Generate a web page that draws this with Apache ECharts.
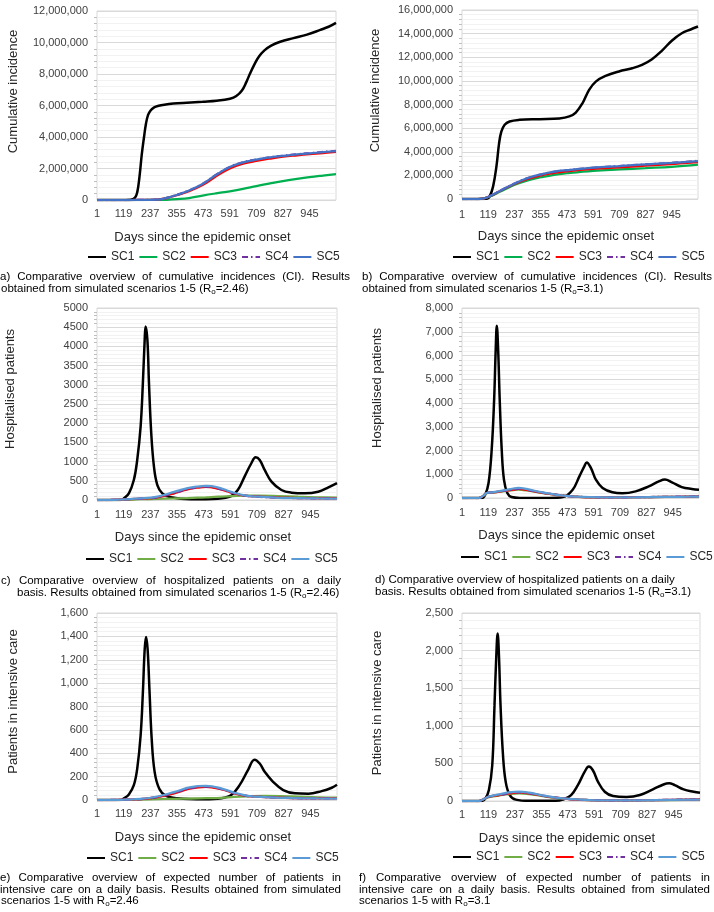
<!DOCTYPE html>
<html><head><meta charset="utf-8">
<script src="https://cdn.jsdelivr.net/npm/echarts@6/dist/echarts.min.js"></script>
<style>html,body{margin:0;padding:0;background:#fff}#c{width:714px;height:912px}</style>
</head><body><div id="c"></div><script>
// ---------------- DATA ----------------
const seriesNames = ['SC1','SC2','SC3','SC4','SC5'];
const xTickLabels = [1,119,237,355,473,591,709,827,945];
const xLast = 1063;

// a) Cumulative incidence, R0=2.46
const a_days1 = [1,100,150,170,180,190,200,210,218,228,240,255,275,300,340,400,470,533,592,620,645,665,680,700,720,745,775,815,874,934,993,1030,1063];
const a_SC1 = [0,0,20000,150000,500000,1500000,2900000,4000000,4800000,5400000,5700000,5880000,5980000,6050000,6120000,6180000,6240000,6300000,6430000,6600000,6950000,7500000,8000000,8600000,9100000,9500000,9800000,10050000,10280000,10500000,10800000,11000000,11250000];
const a_days = [1,150,200,267,310,355,410,470,530,591,650,709,770,827,890,945,1005,1063];
const a_SC2 = [0,0,0,5000,15000,50000,120000,280000,420000,550000,700000,880000,1050000,1200000,1340000,1450000,1550000,1640000];
const a_SC3 = [0,0,5000,20000,120000,300000,560000,950000,1500000,2000000,2300000,2480000,2630000,2750000,2840000,2910000,2980000,3050000];
const a_SC4 = [0,0,5000,22000,130000,320000,600000,1020000,1600000,2100000,2400000,2570000,2710000,2810000,2900000,2970000,3050000,3120000];
const a_SC5 = [0,0,5000,22000,130000,320000,600000,1010000,1590000,2090000,2390000,2560000,2700000,2800000,2890000,2960000,3040000,3110000];

// b) Cumulative incidence, R0=3.1
const b_days1 = [1,100,115,126,141,156,168,178,193,215,260,350,439,484,513,543,573,603,647,707,767,811,856,901,945,990,1030,1063];
const b_SC1 = [0,0,30000,230000,1070000,2760000,4730000,5700000,6280000,6560000,6700000,6760000,6820000,6990000,7320000,8100000,9240000,9940000,10420000,10800000,11070000,11350000,11830000,12560000,13400000,14030000,14350000,14600000];
const b_days = [1,70,100,126,171,238,297,357,415,473,591,709,827,945,1063];
const b_SC2 = [0,0,55000,210000,610000,1200000,1580000,1840000,2050000,2180000,2380000,2500000,2610000,2720000,2900000];
const b_SC3 = [0,0,60000,230000,650000,1270000,1690000,2000000,2200000,2340000,2540000,2680000,2820000,2960000,3130000];
const b_SC4 = [0,0,60000,240000,680000,1320000,1770000,2080000,2300000,2430000,2640000,2790000,2930000,3060000,3230000];
const b_SC5 = [0,0,60000,240000,680000,1320000,1780000,2090000,2310000,2440000,2650000,2790000,2930000,3050000,3200000];

// c) Hospitalised patients, R0=2.46
const c_days1 = [1,105,120,142,164,179,194,204,212,216,224,231,241,253,268,290,327,416,535,595,624,654,684,703,721,743,773,817,862,921,980,1025,1063];
const c_SC1 = [0,0,43,174,520,1043,1913,3043,4170,4520,4170,3043,1740,870,390,174,70,17,35,104,260,610,957,1113,1043,783,478,261,191,174,217,330,440];
const c_days = [1,60,120,194,268,342,402,446,483,535,595,654,713,802,891,980,1063];
const c_SC2 = [0,0,5,20,30,40,50,60,70,87,100,113,115,104,85,70,61];
const c_SC3 = [0,0,17,35,70,174,278,322,340,296,191,113,87,61,52,43,40];
const c_SC4 = [0,0,17,36,72,180,285,330,348,305,195,113,85,60,50,42,38];
const c_SC5 = [0,0,17,40,90,210,310,350,365,330,210,120,85,58,48,40,36];

// d) Hospitalised patients, R0=3.1
const d_days1 = [1,90,105,120,134,145,152,157,163,170,179,189,204,223,260,394,453,497,527,549,560,579,601,631,675,720,779,838,883,910,942,986,1031,1063];
const d_SC1 = [0,0,140,630,2030,4140,6240,7250,6240,4140,2030,770,210,42,5,5,42,350,910,1330,1500,1260,770,420,240,200,280,490,700,780,660,460,380,350];
const d_days = [1,75,97,112,142,186,231,253,290,349,409,468,542,690,838,986,1063];
const d_SC2 = [0,0,95,200,230,280,330,350,320,230,150,85,42,28,40,52,62];
const d_SC3 = [0,0,100,210,240,295,350,380,340,240,155,85,42,28,42,56,70];
const d_SC4 = [0,0,100,212,245,300,360,385,345,245,157,86,43,28,42,56,70];
const d_SC5 = [0,0,100,210,250,320,400,425,380,260,160,88,45,28,38,52,62];

// e) Patients in intensive care, R0=2.46
const e_days1 = [1,105,120,142,164,179,194,204,212,218,225,233,243,256,276,305,357,476,550,595,632,669,698,721,743,780,825,877,936,995,1040,1063];
const e_SC1 = [0,0,14,48,127,269,552,920,1289,1394,1289,949,524,241,99,37,14,6,14,42,127,255,345,312,241,156,85,57,54,76,105,130];
const e_days = [1,60,120,194,268,342,416,483,550,609,669,743,862,980,1063];
const e_SC2 = [0,0,1,4,8,10,12,15,19,27,32,35,31,23,20];
const e_SC3 = [0,0,3,8,25,57,99,113,93,57,34,25,17,14,14];
const e_SC4 = [0,0,3,8,26,60,102,115,95,58,34,25,17,14,14];
const e_SC5 = [0,0,3,9,30,68,110,120,100,62,36,25,17,13,12];

// f) Patients in intensive care, R0=3.1
const f_days1 = [1,91,106,121,136,146,154,160,166,173,184,196,214,241,301,420,450,488,518,548,567,585,608,638,675,735,795,855,900,925,950,990,1035,1063];
const f_SC1 = [0,0,35,145,475,1268,1928,2227,1928,1268,607,255,79,18,2,2,18,79,211,387,458,409,255,123,66,53,79,158,220,235,211,154,123,110];
const f_days = [1,76,98,121,166,211,256,301,360,420,480,570,720,870,1063];
const f_SC2 = [0,0,24,52,72,92,102,92,64,40,24,12,8,11,18];
const f_SC3 = [0,0,26,57,79,101,114,101,70,44,26,13,9,13,22];
const f_SC4 = [0,0,26,58,80,103,116,103,71,45,26,13,9,13,22];
const f_SC5 = [0,0,26,60,88,115,125,110,75,46,27,13,9,12,18];

// ---------------- LAYOUT / STYLE ----------------
const FONT = '"Liberation Sans", Arial, sans-serif';
const colorsAB = ['#000000','#00b050','#ff0000','#7030a0','#4472c4'];
const colorsCF = ['#000000','#70ad47','#ff0000','#7030a0','#5b9bd5'];

const panels = [
  {k:'a', g:{left:97,top:11,width:239,height:189}, ymax:12000000, yint:2000000, comma:true, yname:'Cumulative incidence', yGap:77, yShift:28, xm:8, lg:{left:87,top:251}, colors:colorsAB,
   d1:a_days1, s1:a_SC1, d:a_days, s:[a_SC2,a_SC3,a_SC4,a_SC5]},
  {k:'b', g:{left:462,top:10,width:236,height:189}, ymax:16000000, yint:2000000, comma:true, yname:'Cumulative incidence', yGap:80, yShift:28, xm:10, lg:{left:452,top:251}, colors:colorsAB,
   d1:b_days1, s1:b_SC1, d:b_days, s:[b_SC2,b_SC3,b_SC4,b_SC5]},
  {k:'c', g:{left:97,top:308,width:240,height:192}, ymax:5000, yint:500, comma:false, yname:'Hospitalised patients', yGap:80, yShift:30, xm:9, lg:{left:85,top:553}, colors:colorsCF,
   d1:c_days1, s1:c_SC1, d:c_days, s:[c_SC2,c_SC3,c_SC4,c_SC5]},
  {k:'d', g:{left:462,top:308,width:237,height:190}, ymax:8000, yint:1000, comma:true, yname:'Hospitalised patients', yGap:78, yShift:30, xm:9, lg:{left:460,top:551}, colors:colorsCF,
   d1:d_days1, s1:d_SC1, d:d_days, s:[d_SC2,d_SC3,d_SC4,d_SC5]},
  {k:'e', g:{left:97,top:613,width:240,height:187}, ymax:1600, yint:200, comma:true, yname:'Patients in intensive care', yGap:77, yShift:10, xm:8, lg:{left:86,top:852}, colors:colorsCF,
   d1:e_days1, s1:e_SC1, d:e_days, s:[e_SC2,e_SC3,e_SC4,e_SC5]},
  {k:'f', g:{left:462,top:613,width:238,height:188}, ymax:2500, yint:500, comma:true, yname:'Patients in intensive care', yGap:78, yShift:8, xm:8, lg:{left:452,top:851}, colors:colorsCF,
   d1:f_days1, s1:f_SC1, d:f_days, s:[f_SC2,f_SC3,f_SC4,f_SC5]}
];

const captions = [
  {x:0, x1:350, y:277, t:'a) Comparative overview of cumulative incidences (CI). Results'},
  {x:1, y:288.5, t:'obtained from simulated scenarios 1-5 (R{s|o}=2.46)'},
  {x:362, x1:712, y:277, t:'b) Comparative overview of cumulative incidences (CI). Results'},
  {x:362, y:288.5, t:'obtained from simulated scenarios 1-5 (R{s|o}=3.1)'},
  {x:1, x1:341, y:581, t:'c) Comparative overview of hospitalized patients on a daily'},
  {x:17, y:592.5, t:'basis. Results obtained from simulated scenarios 1-5 (R{s|o}=2.46)'},
  {x:375, y:580, t:'d) Comparative overview of hospitalized patients on a daily'},
  {x:375, y:591.5, t:'basis. Results obtained from simulated scenarios 1-5 (R{s|o}=3.1)'},
  {x:0, x1:341, y:878, t:'e) Comparative overview of expected number of patients in'},
  {x:0, x1:341, y:889.5, t:'intensive care on a daily basis. Results obtained from simulated'},
  {x:1, y:901, t:'scenarios 1-5 with R{s|o}=2.46'},
  {x:359, x1:710, y:878, t:'f) Comparative overview of expected number of patients in'},
  {x:359, x1:710, y:889.5, t:'intensive care on a daily basis. Results obtained from simulated'},
  {x:359, y:901, t:'scenarios 1-5 with R{s|o}=3.1'}
];
const CAP_FS = 11.5;

// ---------------- BUILD ----------------
const pairs = (xs, ys) => xs.map((x, i) => [x, ys[i]]);
const fmtComma = v => String(v).replace(/\B(?=(\d{3})+(?!\d))/g, ',');

const grids = [], xAxes = [], yAxes = [], series = [], legends = [];
panels.forEach((p, i) => {
  grids.push(Object.assign({show:true, borderColor:'#d9d9d9', borderWidth:1, backgroundColor:'transparent'}, p.g));
  xAxes.push({
    type:'value', gridIndex:i, min:xTickLabels[0], max:xLast, interval:xTickLabels[1]-xTickLabels[0],
    axisLine:{show:false}, axisTick:{show:false}, splitLine:{show:false},
    axisLabel:{margin:p.xm, fontSize:11, fontFamily:FONT, color:'#404040', showMaxLabel:false,
      formatter: v => xTickLabels.indexOf(v) >= 0 ? String(v) : ''},
    name:'Days since the epidemic onset', nameLocation:'middle', nameGap:31,
    nameTextStyle:{fontSize:13, fontFamily:FONT, color:'#262626', padding:[0,28,0,0]}
  });
  yAxes.push({
    type:'value', gridIndex:i, min:0, max:p.ymax, interval:p.yint,
    axisLine:{show:false}, axisTick:{show:false},
    splitLine:{show:true, lineStyle:{color:'#d9d9d9', width:1}},
    minorTick:{show:true, splitNumber:5, length:3, lineStyle:{color:'#bfbfbf'}},
    minorSplitLine:{show:true, lineStyle:{color:'#f2f2f2', width:1}},
    axisLabel:{margin:9, fontSize:11, fontFamily:FONT, color:'#404040',
      formatter: v => p.comma ? fmtComma(v) : String(v)},
    name:p.yname, nameLocation:'middle', nameGap:p.yGap,
    nameTextStyle:{fontSize:13, fontFamily:FONT, color:'#262626', padding:[0,0,0,p.yShift]}
  });
  const all = [pairs(p.d1, p.s1)].concat(p.s.map(v => pairs(p.d, v)));
  const order = [0,1,2,4,3]; // purple dash-dot drawn over blue
  order.forEach(j => {
    const ls = {color:p.colors[j], width: j === 0 ? 2.5 : 2.25};
    if (j === 3) ls.type = [6,3,1.5,3];
    series.push({
      type:'line', name: seriesNames[j] + '#' + p.k, xAxisIndex:i, yAxisIndex:i,
      data: all[j], symbol:'none', showSymbol:false, smooth:0.4,
      lineStyle: ls, itemStyle:{color:p.colors[j]}, emphasis:{disabled:true}, z: 2 + j
    });
  });
  legends.push({
    left:p.lg.left, top:p.lg.top, width:320, orient:'horizontal', padding:0, itemGap:4, itemWidth:18, itemHeight:10,
    data: seriesNames.map(n => n + '#' + p.k), selectedMode:false,
    formatter: n => n.split('#')[0],
    itemStyle:{opacity:0, color:'transparent', borderColor:'transparent', borderWidth:0},
    textStyle:{fontSize:12, fontFamily:FONT, color:'#262626'}
  });
});

// captions (justified lines distribute their words between x and x1)
const cv = document.createElement('canvas').getContext('2d');
cv.font = CAP_FS + 'px ' + FONT;
const rich = {s:{fontSize:8, lineHeight:8, verticalAlign:'bottom', fontFamily:FONT, fill:'#000'}};
const graphics = [];
captions.forEach(c => {
  const base = {fontSize:CAP_FS, fontFamily:FONT, fill:'#000', verticalAlign:'middle', lineHeight:14, rich:rich};
  if (!c.x1) {
    graphics.push({type:'text', x:c.x, y:c.y, style:Object.assign({text:c.t}, base)});
  } else {
    const words = c.t.split(' ');
    const ws = words.map(w => cv.measureText(w).width);
    const tot = ws.reduce((a, b) => a + b, 0);
    const gap = (c.x1 - c.x - tot) / (words.length - 1);
    let x = c.x;
    words.forEach((w, k) => {
      graphics.push({type:'text', x:x, y:c.y, style:Object.assign({text:w}, base)});
      x += ws[k] + gap;
    });
  }
});

const chart = echarts.init(document.getElementById('c'), null, {renderer:'canvas'});
chart.setOption({
  animation:false,
  backgroundColor:'#ffffff',
  grid:grids, xAxis:xAxes, yAxis:yAxes, series:series, legend:legends,
  graphic:graphics
});
</script></body></html>
